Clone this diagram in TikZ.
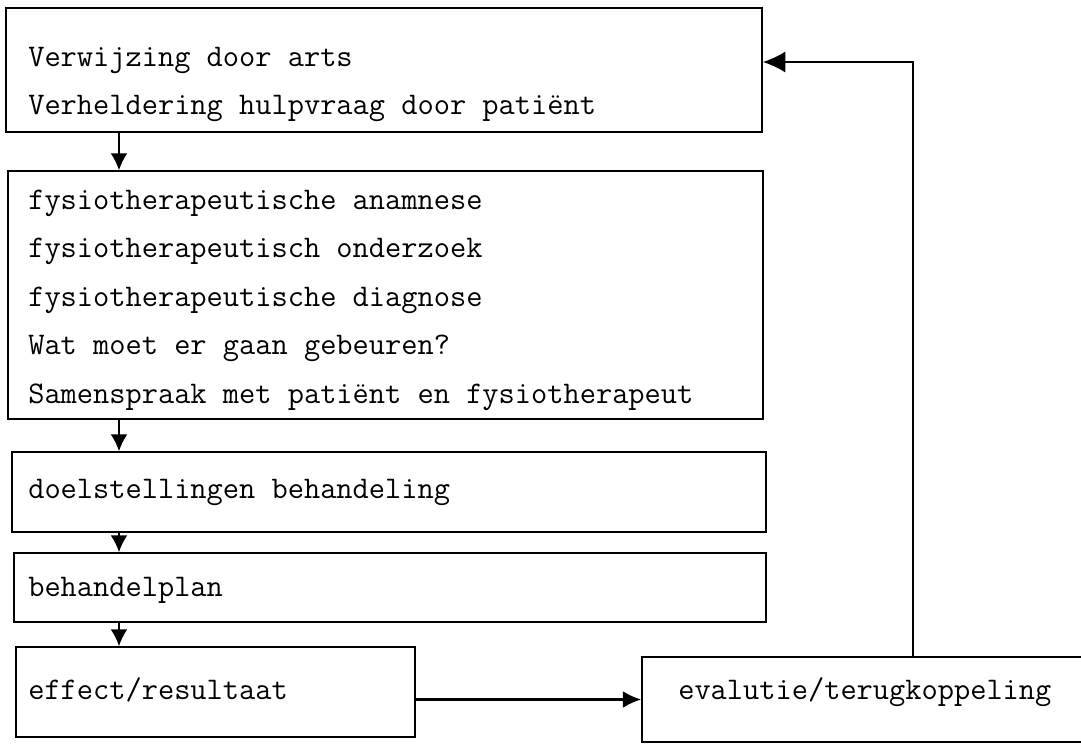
\documentclass[tikz,border=0pt]{standalone}
\usepackage{fontspec}
\usepackage{xcolor}
\usepackage{tikz}
\usetikzlibrary{arrows.meta, fit}

\begin{document}
\begin{tikzpicture}[x=0.025cm, y=-0.025cm,
            blok/.style={draw, line width=1.2pt, inner sep=0pt},
            tekst/.style={anchor=west, inner sep=0pt, font=\ttfamily\fontsize{22.4pt}{26pt}\selectfont},
            pijl/.style={line width=1.2pt, -{Latex[length=12pt, width=12pt]}}]
          \useasboundingbox (0,0) rectangle (1081,751);
          \foreach \naam/\xa/\ya/\xb/\yb in {verw/6/8/762/132, fys/8/171/763/419, doel/12/452/766/532, plan/14/553/766/622, effect/16/647/415/737, eval/642/657/1095/742}{%
            \node[blok, fit={(\xa,\ya) (\xb,\yb)}] (\naam) {};
          }

          \node[tekst] (verw1) at (28,60) {Verwijzing door arts};
          \node[tekst] (verw2) at (28,108) {Verheldering hulpvraag door patiënt};
          \foreach \regel [count=\i from 1] in {fysiotherapeutische anamnese, fysiotherapeutisch onderzoek, fysiotherapeutische diagnose, Wat moet er gaan gebeuren?, Samenspraak met patiënt en fysiotherapeut}{%
            \node[tekst] (fys\i) at (28, 154.5+48.5*\i) {\regel};
          }
          \node[tekst] (doel1) at (28,492) {doelstellingen behandeling};
          \node[tekst] (plan1) at (28,590) {behandelplan};
          \node[tekst] (effect1) at (28,690) {effect/resultaat};
          \node[tekst] (eval1) at (678,692) {evalutie/terugkoppeling};

          \coordinate (as) at (119,0);
          \draw[pijl] (verw.south -| as) -- (fys.north -| as);
          \draw[pijl] (fys.south -| as) -- (doel.north -| as);
          \draw[pijl] (doel.south -| as) -- (plan.north -| as);
          \draw[pijl] (plan.south -| as) -- (effect.north -| as);
          \draw[pijl, line width=1.6pt, -{Latex[length=13pt, width=12pt]}] (effect.east |- eval.west) -- (eval.west);
          \coordinate (terug) at (913,62);
          \draw[pijl, -{Latex[length=16pt, width=15pt]}] (eval.north -| terug) -- (terug) -- (verw.east |- terug);
        \end{tikzpicture}
\end{document}
